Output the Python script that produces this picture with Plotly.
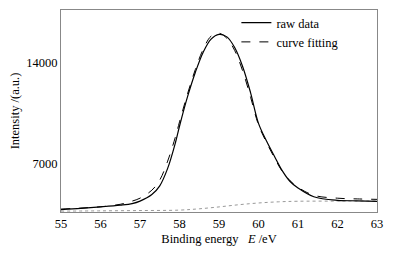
import plotly.graph_objects as go

x_raw = [55, 55.5, 56, 56.5, 56.8, 57, 57.3, 57.5, 57.7, 57.9, 58, 58.2, 58.4, 58.6, 58.8,
         59, 59.2, 59.4, 59.6, 59.8, 60, 60.2, 60.4, 60.6, 60.8, 61, 61.4, 62, 62.5, 63]
y_raw = [3870, 3950, 4050, 4170, 4280, 4450, 4900, 5500, 6700, 8500, 9600, 11600, 13300, 14700, 15600,
         15920, 15750, 15000, 13700, 11900, 9800, 8600, 7550, 6550, 5800, 5350, 4750, 4500, 4470, 4430]
y_fit = [3900, 3970, 4060, 4230, 4450, 4650, 5200, 5900, 7200, 8900, 9900, 11800, 13500, 14900, 15800,
         16000, 15650, 14800, 13400, 11600, 9700, 8500, 7450, 6500, 5850, 5400, 4850, 4650, 4600, 4570]
x_base = [55, 56, 57, 58, 58.5, 59, 59.5, 60, 60.5, 61, 62, 63]
y_base = [3760, 3780, 3800, 3830, 3920, 4050, 4200, 4320, 4400, 4440, 4450, 4460]
y_ticks = [7000, 14000]
y_ticktext = ["7000", "14000"]
x_ticks = [55, 56, 57, 58, 59, 60, 61, 62, 63]

font = "Liberation Serif"
fnt = dict(family=font, size=12.5, color="#000000")
fig = go.Figure()
fig.add_trace(go.Scatter(x=x_base, y=y_base, mode="lines",
                         line=dict(color="#999999", width=1, dash="dot", shape="spline"),
                         showlegend=False))
fig.add_trace(go.Scatter(x=x_raw, y=y_raw, mode="lines", name="raw data",
                         line=dict(color="black", width=1.2, shape="spline")))
fig.add_trace(go.Scatter(x=x_raw, y=y_fit, mode="lines", name="curve fitting",
                         line=dict(color="black", width=1, dash="dash", shape="spline")))

fig.update_layout(
    template="simple_white",
    width=392, height=246, margin=dict(l=53, r=23, t=0, b=42),
    paper_bgcolor="white", plot_bgcolor="white",
    font=fnt,
    legend=dict(x=0.555, y=1.01, xanchor="left", yanchor="top", bgcolor="rgba(0,0,0,0)",
                font=fnt, tracegroupgap=0, itemwidth=30),
)
fig.update_xaxes(range=[55, 63], tickvals=x_ticks, showgrid=False, zeroline=False,
                 showline=True, linecolor="#888888", mirror=True, ticks="", ticklen=0,
                 tickfont=fnt,
                 title=dict(text="Binding energy &nbsp;&nbsp;<i>E</i> /eV", standoff=4, font=fnt))
fig.update_yaxes(range=[3700, 17600], tickvals=y_ticks, ticktext=y_ticktext, showgrid=False, zeroline=False,
                 showline=True, linecolor="#888888", mirror=True, ticks="", ticklen=0,
                 tickfont=fnt,
                 title=dict(text="Intensity /(a.u.)", standoff=6, font=fnt))
fig.write_html("out.html")
